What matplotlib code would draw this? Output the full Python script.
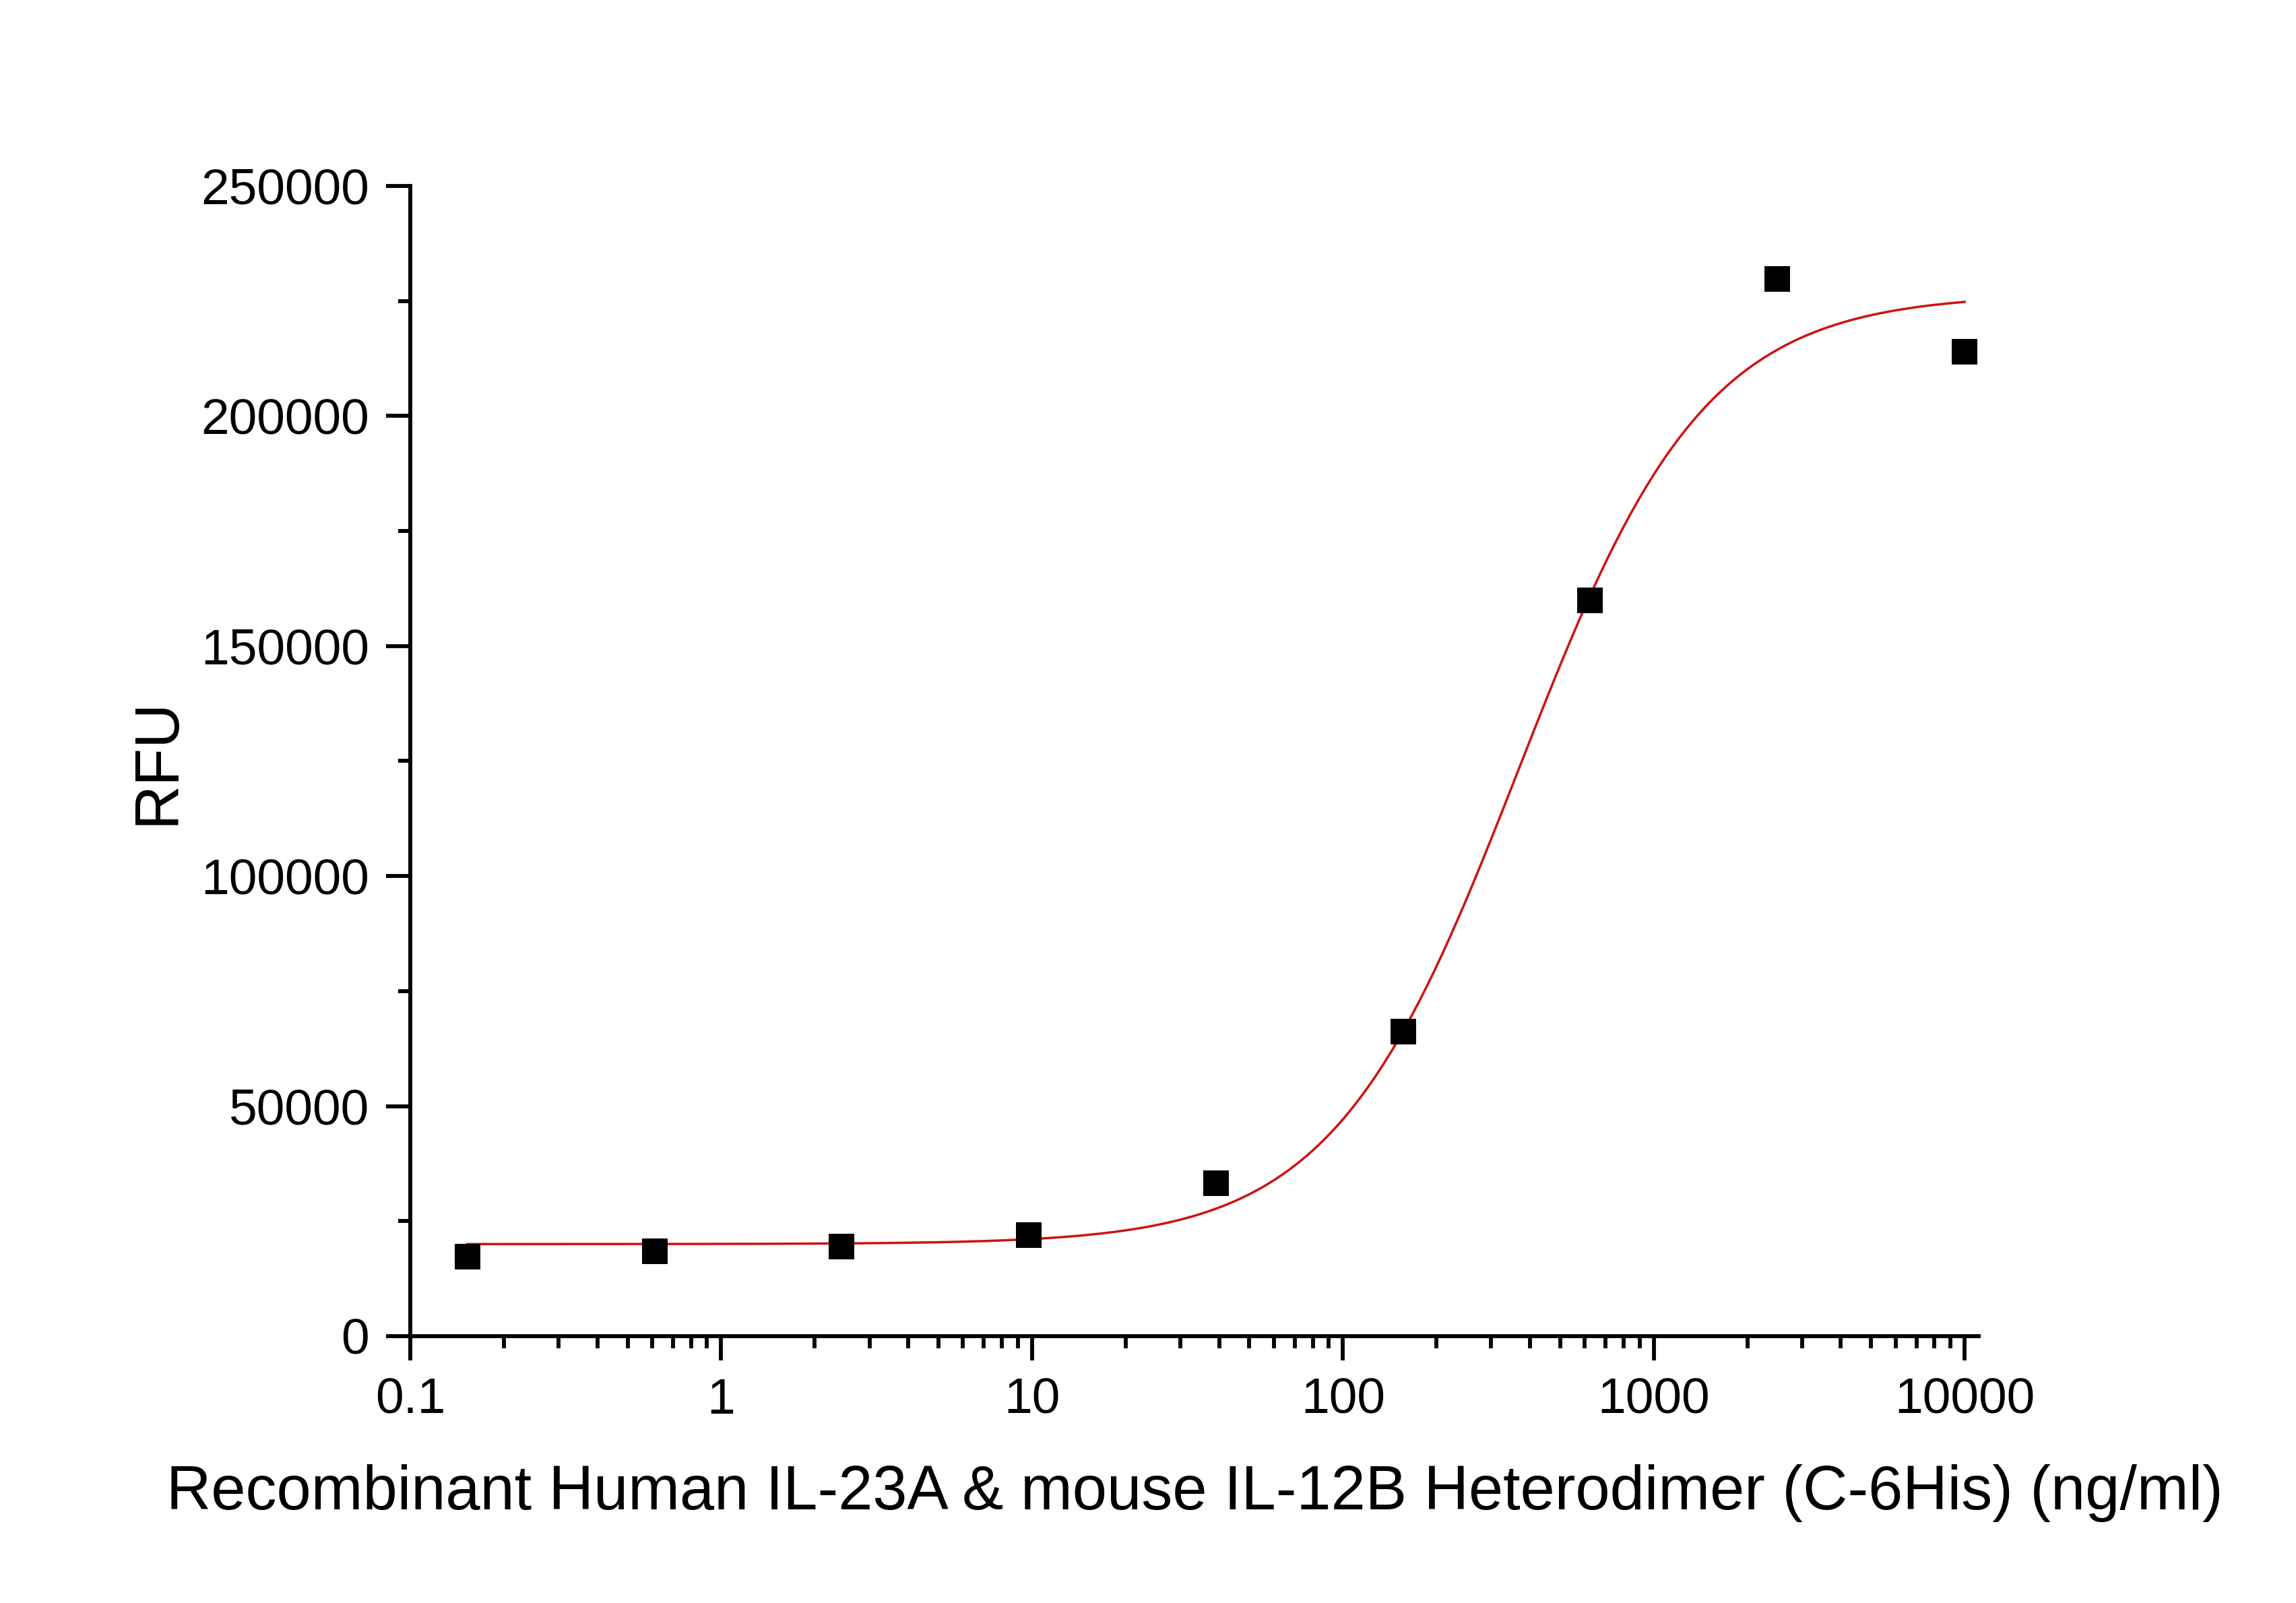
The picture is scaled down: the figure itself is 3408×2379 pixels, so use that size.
import numpy as np
import matplotlib
import matplotlib.pyplot as plt
from matplotlib.ticker import LogLocator, MultipleLocator, FixedLocator, NullFormatter

matplotlib.use('Agg')

# measured points (4-fold dilution series)
conc = [0.1526, 0.6104, 2.441, 9.766, 39.06, 156.25, 625, 2500, 10000]
rfu = [17300, 18450, 19500, 22000, 33250, 66200, 159900, 229800, 214000]

# 4PL fit parameters
fit_bottom = 20000
fit_top = 226500
fit_ec50 = 368
fit_hill = 1.45

x_ticks = [0.1, 1, 10, 100, 1000, 10000]
x_tick_labels = ['0.1', '1', '10', '100', '1000', '10000']
y_ticks = [0, 50000, 100000, 150000, 200000, 250000]

plt.rcParams['font.family'] = ['Liberation Sans', 'DejaVu Sans']

fig = plt.figure(figsize=(11.36, 7.93), dpi=300)
ax = fig.add_axes([0.1787, 0.1665, 0.8618 - 0.1787, 0.884 - 0.1665])

xs = np.logspace(np.log10(conc[0]), np.log10(conc[-1]), 400)
ys = fit_bottom + (fit_top - fit_bottom) / (1 + (fit_ec50 / xs) ** fit_hill)
ax.plot(xs, ys, color='#cc1414', lw=0.85, zorder=2)
ax.plot(conc, rfu, ls='none', marker='s', ms=9, mew=0, color='black', zorder=3)

ax.set_xscale('log')
ax.set_xlim(0.1, 11100)
ax.set_ylim(0, 250000)

ax.xaxis.set_major_locator(FixedLocator(x_ticks))
ax.set_xticklabels(x_tick_labels)
ax.xaxis.set_minor_locator(LogLocator(base=10, subs=np.arange(2, 10)))
ax.xaxis.set_minor_formatter(NullFormatter())
ax.set_yticks(y_ticks)
ax.set_yticklabels([str(v) for v in y_ticks])
ax.yaxis.set_minor_locator(MultipleLocator(25000))

for side in ['top', 'right']:
    ax.spines[side].set_visible(False)
for side in ['left', 'bottom']:
    ax.spines[side].set_linewidth(1.4)

ax.tick_params(which='major', direction='out', length=8.6, width=1.4,
               labelsize=18, pad=6)
ax.tick_params(which='minor', direction='out', length=4.4, width=1.4)

ax.set_xlabel('Recombinant Human IL-23A & mouse IL-12B Heterodimer (C-6His) (ng/ml)',
              fontsize=22.1, labelpad=14.5)
ax.set_ylabel('RFU', fontsize=22, labelpad=5)

fig.savefig('out.png', dpi=300)
plt.close(fig)
